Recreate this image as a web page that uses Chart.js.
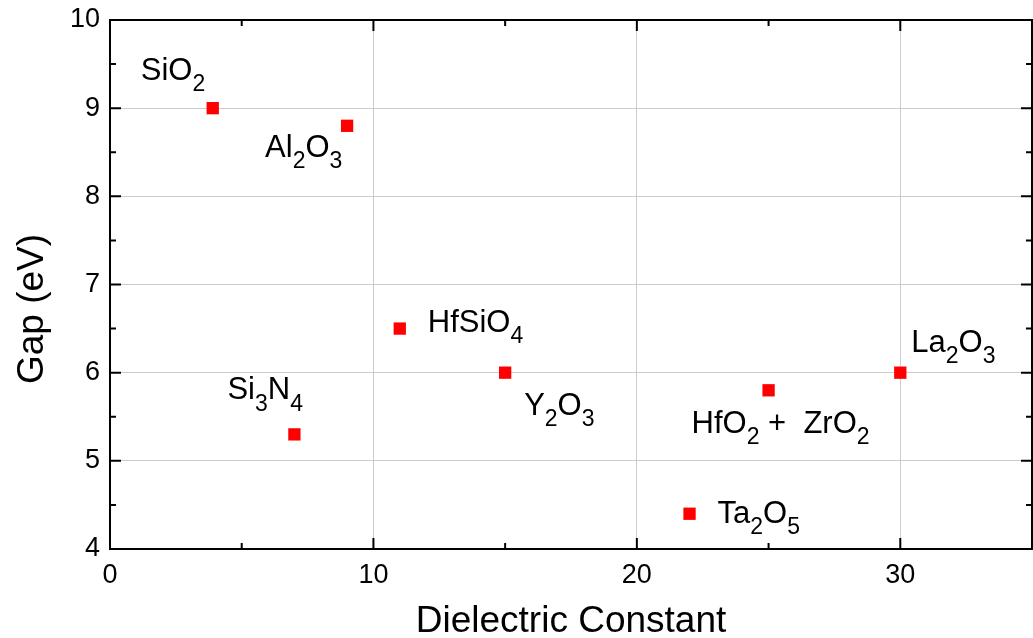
<!DOCTYPE html>
<html>
<head>
<meta charset="utf-8">
<title>Gap vs Dielectric Constant</title>
<script src="https://cdn.jsdelivr.net/npm/chart.js@4.4.1/dist/chart.umd.min.js"></script>
<style>
  html, body { margin: 0; padding: 0; background: #fff; }
  #wrap { width: 1033px; height: 638px; position: relative; }
</style>
</head>
<body>
<div id="wrap"><canvas id="myChart"></canvas></div>
<script>
'use strict';

// materials, dielectric constant (k) and band gap (eV)
const materials = ['SiO_2', 'Al_2O_3', 'Si_3N_4', 'HfSiO_4', 'Y_2O_3', 'Ta_2O_5', 'HfO_2 +  ZrO_2', 'La_2O_3'];
const dielectricK = [3.9, 9, 7, 11, 15, 22, 25, 30];
const gapValues = [9, 8.8, 5.3, 6.5, 6, 4.4, 5.8, 6];

const xTicks = [0, 10, 20, 30];
const yTicks = [4, 5, 6, 7, 8, 9, 10];

// where each label sits relative to its marker (px)
const labelOffsets = [[-72, -28], [-82, 31], [-67, -35], [28, 3], [19, 42], [28, 9], [-77, 43], [11, -21]];

const fontFamily = '"Liberation Sans", Arial, sans-serif';

function drawFormula(ctx, text, x, y, size) {
  // underscore marks the next digits as a subscript
  let cx = x;
  const parts = text.split(/(_[0-9]+)/);
  for (const part of parts) {
    if (part === '') continue;
    if (part[0] === '_') {
      ctx.font = `${Math.round(size * 0.74)}px ${fontFamily}`;
      ctx.fillText(part.slice(1), cx, y + size * 0.36);
      cx += ctx.measureText(part.slice(1)).width;
    } else {
      ctx.font = `${size}px ${fontFamily}`;
      ctx.fillText(part, cx, y);
      cx += ctx.measureText(part).width;
    }
  }
}

const framePlugin = {
  id: 'frame',
  afterDraw(chart) {
    const ctx = chart.ctx;
    const area = chart.chartArea;
    const xs = chart.scales.x;
    const ys = chart.scales.y;
    ctx.save();

    // inward ticks on all four sides
    ctx.strokeStyle = '#000';
    ctx.lineWidth = 2;
    ctx.beginPath();
    for (let v = 0; v <= 35; v += 5) {
      const px = xs.getPixelForValue(v);
      const len = v % 10 === 0 ? 11 : 6;
      ctx.moveTo(px, area.bottom); ctx.lineTo(px, area.bottom - len);
      ctx.moveTo(px, area.top); ctx.lineTo(px, area.top + len);
    }
    for (let v = 4; v <= 10; v += 0.5) {
      const py = ys.getPixelForValue(v);
      const len = Number.isInteger(v) ? 11 : 6;
      ctx.moveTo(area.left, py); ctx.lineTo(area.left + len, py);
      ctx.moveTo(area.right, py); ctx.lineTo(area.right - len, py);
    }
    ctx.stroke();
    ctx.strokeRect(area.left, area.top, area.right - area.left, area.bottom - area.top);

    // formula labels
    ctx.fillStyle = '#000';
    ctx.textAlign = 'left';
    ctx.textBaseline = 'alphabetic';
    for (let i = 0; i < materials.length; i++) {
      const px = xs.getPixelForValue(dielectricK[i]);
      const py = ys.getPixelForValue(gapValues[i]);
      drawFormula(ctx, materials[i], px + labelOffsets[i][0], py + labelOffsets[i][1], 31);
    }

    // axis titles
    ctx.font = `37px ${fontFamily}`;
    ctx.textAlign = 'center';
    ctx.fillText('Dielectric Constant', (area.left + area.right) / 2, 632);
    ctx.translate(43, 309);
    ctx.rotate(-Math.PI / 2);
    ctx.fillText('Gap (eV)', 0, 0);
    ctx.restore();
  }
};

function renderChart() {
  const points = [];
  for (let i = 0; i < materials.length; i++) {
    points.push({ x: dielectricK[i], y: gapValues[i] });
  }

  const data = {
    datasets: [
      {
        label: 'Gap',
        data: points,
        pointStyle: 'rect',
        pointRadius: 8.7,
        pointHoverRadius: 8.7,
        backgroundColor: '#ff0000',
        borderWidth: 0,
        showLine: false,
      },
    ],
  };

  const config = {
    type: 'scatter',
    data: data,
    options: {
      responsive: false,
      animation: false,
      events: [],
      layout: { autoPadding: false, padding: { top: 20, right: 1, left: 0, bottom: 0 } },
      plugins: { legend: { display: false }, tooltip: { enabled: false } },
      scales: {
        x: {
          type: 'linear',
          min: 0,
          max: 35,
          afterFit: (s) => { s.height = 89; s.paddingLeft = 0; s.paddingRight = 0; },
          afterBuildTicks: (s) => { s.ticks = xTicks.map((v) => ({ value: v })); },
          border: { display: false },
          grid: { color: '#cccccc', lineWidth: 1, drawTicks: false },
          ticks: { color: '#000', padding: 10, font: { family: fontFamily, size: 27 } },
        },
        y: {
          type: 'linear',
          min: 4,
          max: 10,
          afterFit: (s) => { s.width = 110; s.paddingTop = 0; s.paddingBottom = 0; },
          afterBuildTicks: (s) => { s.ticks = yTicks.map((v) => ({ value: v })); },
          border: { display: false },
          grid: { color: '#cccccc', lineWidth: 1, drawTicks: false },
          ticks: { color: '#000', padding: 10, font: { family: fontFamily, size: 27 } },
        },
      },
    },
    plugins: [framePlugin],
  };

  const canvasChart = document.getElementById('myChart');
  canvasChart.width = 1033;
  canvasChart.height = 638;
  new Chart(canvasChart, config);
}

renderChart();
</script>
</body>
</html>
